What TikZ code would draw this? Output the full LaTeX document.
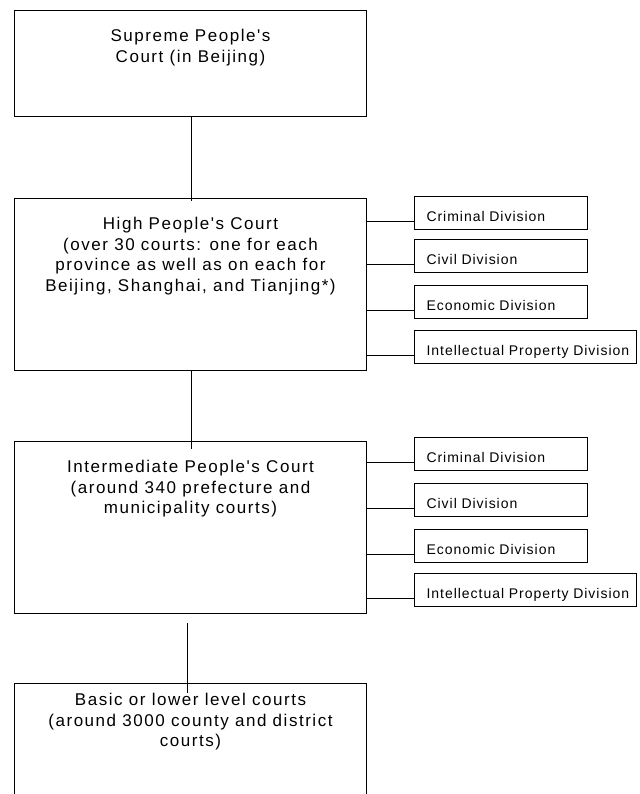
\documentclass[tikz,border=0pt]{standalone}
\usepackage{fontspec}
\setmainfont{Liberation Sans}
\newfontfamily\courtfont[LetterSpace=9]{Liberation Sans}
\newfontfamily\divfont[LetterSpace=7]{Liberation Sans}
\usetikzlibrary{positioning}
\begin{document}
\begin{tikzpicture}[x=1pt,y=-1pt,line width=1pt,
	court/.style={draw,minimum width=352pt,minimum height=#1,inner sep=0},
	courttext/.style={anchor=north,align=center,inner sep=0,
	font=\courtfont\fontsize{17}{20.5}\selectfont},
	division/.style={draw,anchor=north west,text width=#1,align=left,
	inner xsep=0,inner ysep=5pt,text height=20pt,text depth=3pt,
	execute at begin node=\hspace*{12pt},
	font=\divfont\fontsize{14}{16}\selectfont},
	division/.default=173pt]
\useasboundingbox (0,0) rectangle (639,794);
\node[court=106pt,anchor=north west] (supreme) at (14,10) {};
\node[court=172pt,below=81pt of supreme] (high) {};
\node[court=172pt,below=70pt of high] (inter) {};
\node[court=130pt,below=69pt of inter] (basic) {};
\node[courttext] (supremetxt) at ([yshift=-19pt]supreme.north) {Supreme People's\\Court (in Beijing)};
\node[courttext] (hightxt) at ([yshift=-19pt]high.north) {High People's Court\\(over 30 courts: one for each\\province as well as on each for\\Beijing, Shanghai, and Tianjing*)};
\node[courttext] (intertxt) at ([yshift=-19pt]inter.north) {Intermediate People's Court\\(around 340 prefecture and\\municipality courts)};
\node[courttext] (basictxt) at ([yshift=-10pt]basic.north) {Basic or lower level courts\\(around 3000 county and district\\courts)};
% divisions of the high court
\node[division] (hcrim) at (414,196) {Criminal Division};
\node[division,below=9pt of hcrim.south west,anchor=north west] (hciv) {Civil Division};
\node[division,below=12pt of hciv.south west,anchor=north west] (hecon) {Economic Division};
\node[division=222pt,below=11pt of hecon.south west,anchor=north west] (hip) {Intellectual Property Division};
% divisions of the intermediate court
\node[division] (icrim) at (414,437) {Criminal Division};
\node[division,below=12pt of icrim.south west,anchor=north west] (iciv) {Civil Division};
\node[division,below=12pt of iciv.south west,anchor=north west] (iecon) {Economic Division};
\node[division=222pt,below=10pt of iecon.south west,anchor=north west] (iip) {Intellectual Property Division};
\draw ([xshift=1pt]supreme.south) -- ([xshift=1pt,yshift=-3pt]high.north);
\draw ([xshift=1pt]high.south) -- ([xshift=1pt,yshift=-8pt]inter.north);
\draw ([xshift=-3pt,yshift=-9pt]inter.south) -- ([xshift=-3pt,yshift=-10pt]basic.north);
\foreach \d in {hcrim,hciv,hecon,hip}
	\draw (\d.base west) -- (\d.base west -| high.east);
\foreach \d in {icrim,iciv,iecon,iip}
	\draw (\d.base west) -- (\d.base west -| inter.east);
\end{tikzpicture}
\end{document}
